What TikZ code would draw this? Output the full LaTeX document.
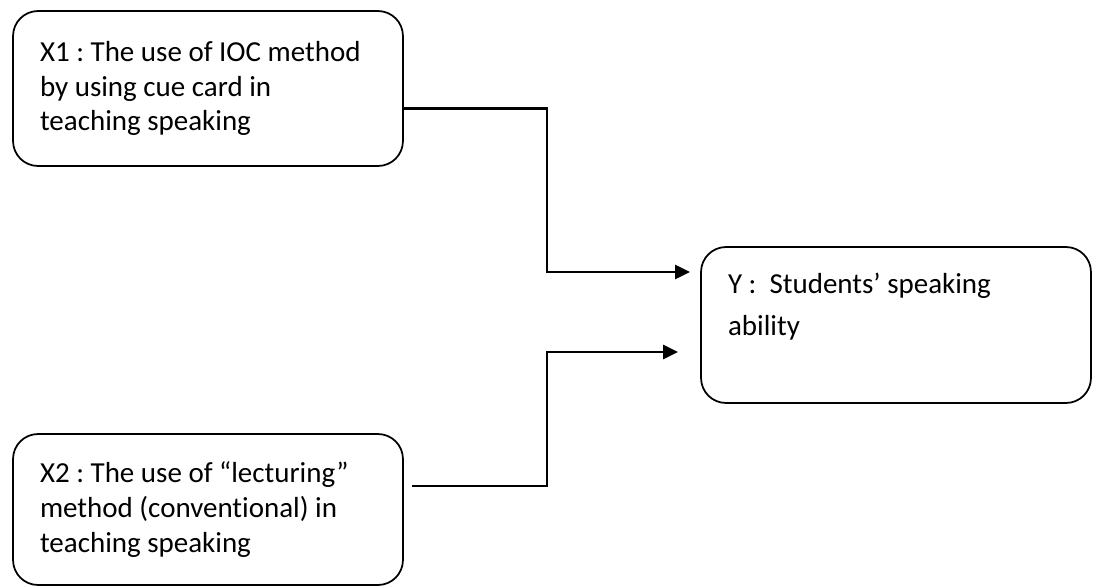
\documentclass[tikz,border=0pt]{standalone}
\usepackage{tikz}
\usepackage{xcolor}
\usepackage{fontspec}
\setmainfont{Carlito}[Ligatures={NoCommon}]
\frenchspacing
\usetikzlibrary{arrows.meta}

\tikzset{
	varbox/.style={draw, line width=1pt, rounded corners=0.5cm, minimum width=7.8cm,
		text width=6.72cm, align=flush left, inner xsep=0.54cm, inner ysep=0pt,
		font=\fontsize{16.5}{19.8}\selectfont},
	conn/.style={line width=1.4pt, -{Triangle[length=8.5pt,width=8pt]}}
}

\begin{document}
\begin{tikzpicture}[x=0.02cm,y=-0.02cm]
		\useasboundingbox (0,0) rectangle (1093,586);
		%
		\node [varbox, minimum height=3.1cm] (x1) at (208,88.5)
			{\mbox{X1 : The use of IOC method}\\by using cue card in\\teaching speaking};
		\node [varbox, minimum height=3.02cm] (x2) at (208,509.5)
			{\mbox{X2 : The use of “lecturing”}\\\mbox{method (conventional) in}\\teaching speaking};
		\node [varbox, minimum height=3.12cm, font=\fontsize{16.5}{24}\selectfont] (y) at (896,325)
			{Y :\ \ Students’ speaking\\ability\\\mbox{}};
		%
		\coordinate (bend1) at (547,190);
		\coordinate (tip1) at (690,272);
		\coordinate (start2) at (412,486);
		\coordinate (bend2) at (547,420);
		\coordinate (tip2) at (678,352);
		\draw [conn] ([yshift=-11.3pt]x1.east) -| (bend1) |- (tip1);
		\draw [conn] (start2) -| (bend2) |- (tip2);
\end{tikzpicture}
\end{document}
